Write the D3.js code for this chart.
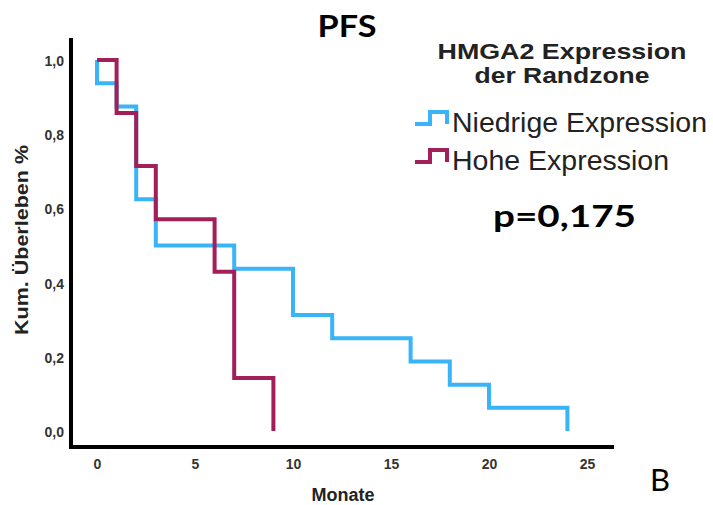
<!DOCTYPE html>
<html>
<head>
<meta charset="utf-8">
<script src="https://cdn.jsdelivr.net/npm/d3@7"></script>
<style>
  body { margin: 0; background: #fff; }
  text { font-family: "Liberation Sans", Arial, sans-serif; }
</style>
</head>
<body>
<div id="chart"></div>
<script>
// Kaplan-Meier steps
const lowTimes = [0, 0, 1, 2, 3, 7, 10, 12, 16, 18, 20, 24];
const lowSurv  = [1, 0.9375, 0.875, 0.625, 0.5, 0.4375, 0.3125, 0.25, 0.1875, 0.125, 0.0625, 0];
const highTimes = [0, 1, 2, 3, 6, 7, 9];
const highSurv  = [1, 0.857, 0.714, 0.571, 0.429, 0.143, 0];

const seriesNames = ["Niedrige Expression", "Hohe Expression"];
const seriesColors = ["#3ab4f8", "#a21f5a"];
const xTicks = [0, 5, 10, 15, 20, 25];
const yTicks = [0, 0.2, 0.4, 0.6, 0.8, 1.0];

const W = 713, H = 505;

const svg = d3.select("#chart").append("svg")
    .attr("width", W)
    .attr("height", H);

const x = d3.scaleLinear().domain([0, 25]).range([97, 587]);
const y = d3.scaleLinear().domain([0, 1]).range([431, 60]);

// axes (thick black lines, no tick marks)
const axisLeftX = 71, axisBottomY = 447;

const yAxis = d3.axisLeft(y).tickValues(yTicks).tickSize(0).tickPadding(0)
    .tickFormat(d => d3.format(".1f")(d).replace(".", ","));
const xAxis = d3.axisBottom(x).tickValues(xTicks).tickSize(0).tickPadding(0);

svg.append("g")
    .attr("transform", "translate(64,1)")
    .call(yAxis)
    .call(g => g.select(".domain").remove())
    .selectAll("text")
    .style("font-size", "14px").style("font-weight", "bold").style("fill", "#333");

svg.append("g")
    .attr("transform", "translate(0,459)")
    .call(xAxis)
    .call(g => g.select(".domain").remove())
    .selectAll("text")
    .style("font-size", "14px").style("font-weight", "bold").style("fill", "#333");

svg.append("path")
    .attr("d", "M" + axisLeftX + ",38V" + axisBottomY + "H614")
    .attr("fill", "none")
    .attr("stroke", "#000")
    .attr("stroke-width", 4);

// survival curves
const line = d3.line()
    .x(d => x(d[0]))
    .y(d => y(d[1]))
    .curve(d3.curveStepAfter);

const lowData = lowTimes.map((t, i) => [t, lowSurv[i]]);
const highData = highTimes.map((t, i) => [t, highSurv[i]]);

svg.append("path")
    .datum(lowData)
    .attr("d", line)
    .attr("fill", "none")
    .attr("stroke", seriesColors[0])
    .attr("stroke-width", 4);

svg.append("path")
    .datum(highData)
    .attr("d", line)
    .attr("fill", "none")
    .attr("stroke", seriesColors[1])
    .attr("stroke-width", 4);

// axis titles
svg.append("text")
    .attr("x", 343).attr("y", 501)
    .attr("text-anchor", "middle")
    .style("font-size", "18px").style("font-weight", "bold").style("fill", "#222")
    .text("Monate");

svg.append("text")
    .attr("transform", "translate(28,240) rotate(-90)")
    .attr("text-anchor", "middle")
    .attr("textLength", 190).attr("lengthAdjust", "spacingAndGlyphs")
    .style("font-size", "18px").style("font-weight", "bold").style("fill", "#222")
    .text("Kum. Überleben %");

// title
svg.append("text")
    .attr("x", 347).attr("y", 37)
    .attr("text-anchor", "middle")
    .attr("textLength", 59).attr("lengthAdjust", "spacingAndGlyphs")
    .style("font-family", "Lato, 'Open Sans', sans-serif")
    .style("font-size", "30px").style("font-weight", "bold")
    .text("PFS");

// legend
const legend = svg.append("g");
legend.append("text")
    .attr("x", 562).attr("y", 59)
    .attr("text-anchor", "middle")
    .attr("textLength", 249).attr("lengthAdjust", "spacingAndGlyphs")
    .style("font-size", "22px").style("font-weight", "bold").style("fill", "#222")
    .text("HMGA2 Expression");
legend.append("text")
    .attr("x", 562).attr("y", 83)
    .attr("text-anchor", "middle")
    .attr("textLength", 175).attr("lengthAdjust", "spacingAndGlyphs")
    .style("font-size", "22px").style("font-weight", "bold").style("fill", "#222")
    .text("der Randzone");

const legendY = [124, 162];
const legendLen = [255, 217];
seriesNames.forEach((name, i) => {
    const by = legendY[i];
    legend.append("path")
        .attr("d", "M415," + by + "H430V" + (by - 12) + "H447V" + by)
        .attr("fill", "none")
        .attr("stroke", seriesColors[i])
        .attr("stroke-width", 4);
    legend.append("text")
        .attr("x", 452).attr("y", by + 8)
        .attr("textLength", legendLen[i]).attr("lengthAdjust", "spacingAndGlyphs")
        .style("font-size", "28px").style("fill", "#222")
        .text(name);
});

svg.append("text")
    .attr("x", 493).attr("y", 227)
    .attr("textLength", 143).attr("lengthAdjust", "spacingAndGlyphs")
    .style("font-family", "Lato, 'Open Sans', sans-serif")
    .style("font-size", "30px").style("font-weight", "bold")
    .text("p=0,175");

svg.append("text")
    .attr("x", 660).attr("y", 491)
    .attr("text-anchor", "middle")
    .style("font-family", "Lato, 'Open Sans', sans-serif")
    .style("font-size", "31px")
    .text("B");
</script>
</body>
</html>
